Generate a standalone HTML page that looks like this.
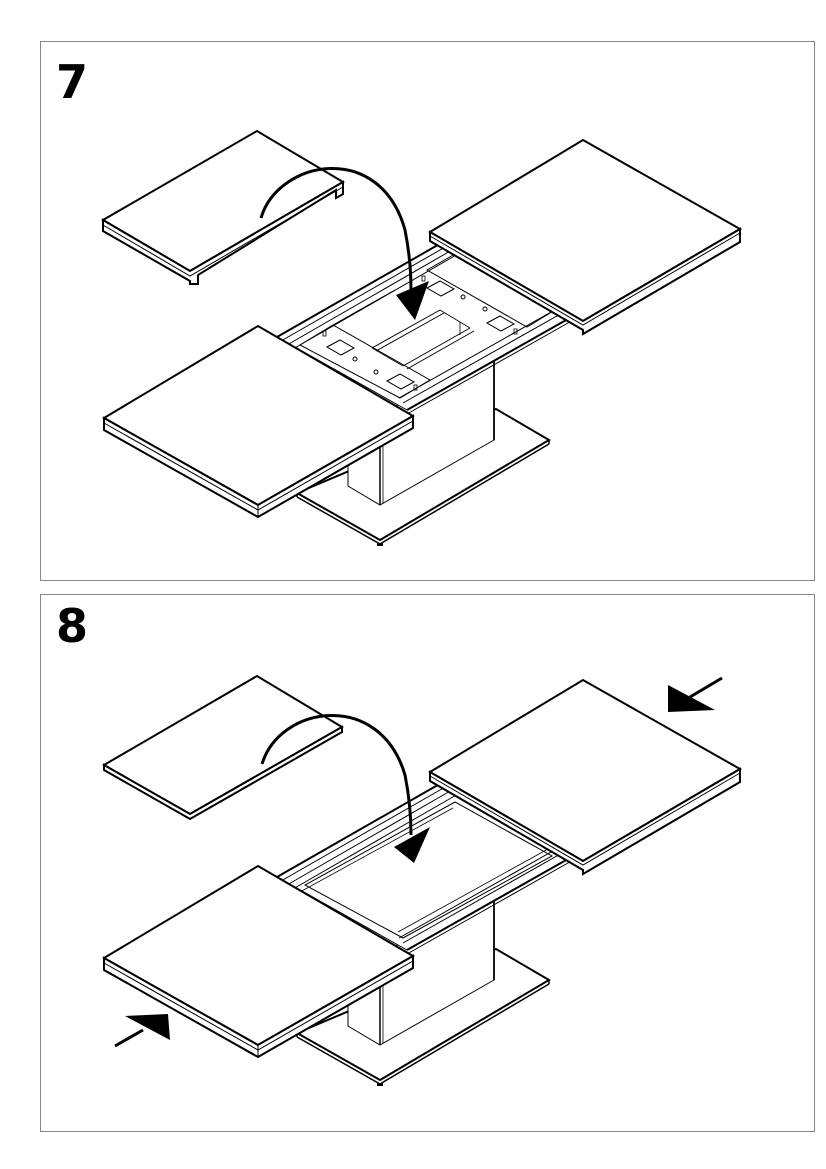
<!DOCTYPE html>
<html><head><meta charset="utf-8"><style>
html,body{margin:0;padding:0;background:#fff;}
svg{display:block;}
.num{font-family:"DejaVu Sans","Liberation Sans",sans-serif;font-weight:bold;font-size:46px;}
</style></head><body>
<svg width="826" height="1169" viewBox="0 0 826 1169" xmlns="http://www.w3.org/2000/svg">
<defs>
<g id="table">
  <polygon points="297,493 380,540 549,440 496,409 297,493" fill="#fff" stroke="#000" stroke-width="2"/>
  <polyline points="297,497 380,544 549,444" fill="none" stroke="#000" stroke-width="1.5"/>
  <line x1="297" y1="493" x2="297" y2="497" stroke="#000" stroke-width="1.5"/>
  <line x1="549" y1="440" x2="549" y2="444" stroke="#000" stroke-width="1.5"/>
  <rect x="377" y="543" width="6" height="3" fill="#000"/>
  <polygon points="348,440 348,486 380,505 494,440 494,350 380,415 348,400" fill="#fff" stroke="#000" stroke-width="1"/>
  <line x1="380" y1="415" x2="380" y2="505" stroke="#000" stroke-width="1.5"/>
  <line x1="383" y1="415" x2="383" y2="503" stroke="#000" stroke-width="0.8"/>
  <line x1="494" y1="350" x2="494" y2="440" stroke="#000" stroke-width="1.8"/>
  <polygon points="277,337 443,242 575,315 407,410" fill="#fff" stroke="none"/>
  <line x1="277" y1="337" x2="443" y2="242" stroke="#000" stroke-width="2"/>
  <line x1="281" y1="341" x2="447" y2="246" stroke="#000" stroke-width="1"/>
  <line x1="287" y1="345" x2="452" y2="250" stroke="#000" stroke-width="1"/>
  <line x1="293" y1="349" x2="458" y2="254" stroke="#000" stroke-width="1"/>
  <line x1="277" y1="337" x2="407" y2="410" stroke="#000" stroke-width="1"/>
  <line x1="407" y1="410" x2="575" y2="315" stroke="#000" stroke-width="2"/>
  <line x1="403" y1="403" x2="571" y2="308" stroke="#000" stroke-width="1"/>
  <line x1="399" y1="398" x2="567" y2="303" stroke="#000" stroke-width="1"/>
  <line x1="407" y1="414" x2="575" y2="319" stroke="#000" stroke-width="1"/>
</g>
<g id="frame7">
  <polygon points="300,345 333,325 430,380 400,398" fill="none" stroke="#000" stroke-width="1"/>
  <polygon points="427,270 455,254 555,310 527,327" fill="none" stroke="#000" stroke-width="1"/>
  <line x1="458" y1="256" x2="540" y2="300" stroke="#000" stroke-width="0.8"/>
  <line x1="372" y1="348" x2="440" y2="310" stroke="#000" stroke-width="1"/>
  <line x1="376" y1="351" x2="444" y2="313" stroke="#000" stroke-width="1"/>
  <line x1="403" y1="366" x2="470" y2="328" stroke="#000" stroke-width="1"/>
  <line x1="407" y1="369" x2="474" y2="331" stroke="#000" stroke-width="1"/>
  <line x1="333" y1="325" x2="395" y2="290" stroke="#000" stroke-width="1"/>
  <line x1="460" y1="322" x2="460" y2="335" stroke="#000" stroke-width="0.8"/>
  <line x1="372" y1="348" x2="403" y2="366" stroke="#000" stroke-width="0.8"/>
  <line x1="440" y1="310" x2="470" y2="328" stroke="#000" stroke-width="0.8"/>
  <polygon points="327,347 340,340 354,348 341,355" fill="none" stroke="#000" stroke-width="1"/>
  <polygon points="387,381 400,374 414,382 401,389" fill="none" stroke="#000" stroke-width="1"/>
  <polygon points="427,288 440,281 454,289 441,296" fill="none" stroke="#000" stroke-width="1"/>
  <polygon points="487,323 500,316 514,324 501,331" fill="none" stroke="#000" stroke-width="1"/>
  <circle cx="355" cy="359" r="2" fill="none" stroke="#000"/>
  <circle cx="376" cy="372" r="2" fill="none" stroke="#000"/>
  <circle cx="463" cy="297" r="2" fill="none" stroke="#000"/>
  <circle cx="485" cy="309" r="2" fill="none" stroke="#000"/>
  <rect x="323" y="331" width="3" height="5" fill="none" stroke="#000" stroke-width="0.8"/>
  <rect x="422" y="276" width="3" height="5" fill="none" stroke="#000" stroke-width="0.8"/>
  <rect x="414" y="385" width="3" height="5" fill="none" stroke="#000" stroke-width="0.8"/>
  <rect x="514" y="329" width="3" height="5" fill="none" stroke="#000" stroke-width="0.8"/>
</g>
<g id="frame8">
  <polygon points="305,345 455,262 552,316 403,398" fill="none" stroke="#000" stroke-width="1"/>
  <line x1="300" y1="352" x2="453" y2="268" stroke="#000" stroke-width="0.8"/>
  <line x1="398" y1="392" x2="548" y2="309" stroke="#000" stroke-width="0.8"/>
</g>
<g id="leafB">
  <polygon points="430,232 583,140 740,229 583,321" fill="#fff" stroke="#000" stroke-width="2"/>
  <polygon points="430,232 583,321 740,229 740,242 583,334 583,330 430,241" fill="#fff" stroke="#000" stroke-width="2"/>
  <polyline points="430,236 583,325 740,233" fill="none" stroke="#000" stroke-width="1"/>
</g>
<g id="leafC">
  <polygon points="104,418 258,326 413,416 258,505" fill="#fff" stroke="#000" stroke-width="2"/>
  <polygon points="104,418 258,505 413,416 413,428 258,517 104,430" fill="#fff" stroke="#000" stroke-width="2"/>
  <polyline points="104,423 258,510 413,421" fill="none" stroke="#000" stroke-width="1"/>
  <line x1="258" y1="505" x2="258" y2="517" stroke="#000" stroke-width="1"/>
</g>
</defs>

<rect x="40.5" y="41.5" width="774" height="539" fill="none" stroke="#888" stroke-width="1"/>
<text x="56" y="98" class="num">7</text>
<use href="#table"/>
<use href="#frame7"/>
<use href="#leafB"/>
<use href="#leafC"/>
<polygon points="103,220 257,131 343,182 190,271" fill="#fff" stroke="#000" stroke-width="2"/>
<polygon points="103,220 190,271 343,182 343,194 336,198 336,190 198,275 198,284 190,284 190,281 103,231" fill="#fff" stroke="#000" stroke-width="2"/>
<polyline points="103,225 190,276 343,187" fill="none" stroke="#000" stroke-width="1"/>
<path d="M261,218 C278,160 380,140 405,230 C409,250 411,270 411,290" fill="none" stroke="#000" stroke-width="3"/>
<polygon points="396,295 429,281 415,320" fill="#000"/>

<rect x="40.5" y="594.5" width="774" height="537" fill="none" stroke="#888" stroke-width="1"/>
<text x="56" y="642" class="num">8</text>
<g transform="translate(0,540)">
  <use href="#table"/>
  <use href="#frame8"/>
  <use href="#leafB"/>
  <use href="#leafC"/>
</g>
<polygon points="104,765 257,676 342,727 190,814" fill="#fff" stroke="#000" stroke-width="2"/>
<polygon points="104,765 190,814 342,727 342,732 190,819 104,770" fill="#fff" stroke="#000" stroke-width="2"/>
<path d="M262,764 C280,705 380,690 405,775 C409,795 411,815 411,835" fill="none" stroke="#000" stroke-width="3"/>
<polygon points="394,847 430,827 414,863" fill="#000"/>
<line x1="722" y1="678" x2="690" y2="697" stroke="#000" stroke-width="3"/>
<polygon points="668,685 668,712 715,710" fill="#000"/>
<line x1="115" y1="1046" x2="143" y2="1030" stroke="#000" stroke-width="3"/>
<polygon points="125,1016 168,1014 170,1040" fill="#000"/>
</svg>
</body></html>
